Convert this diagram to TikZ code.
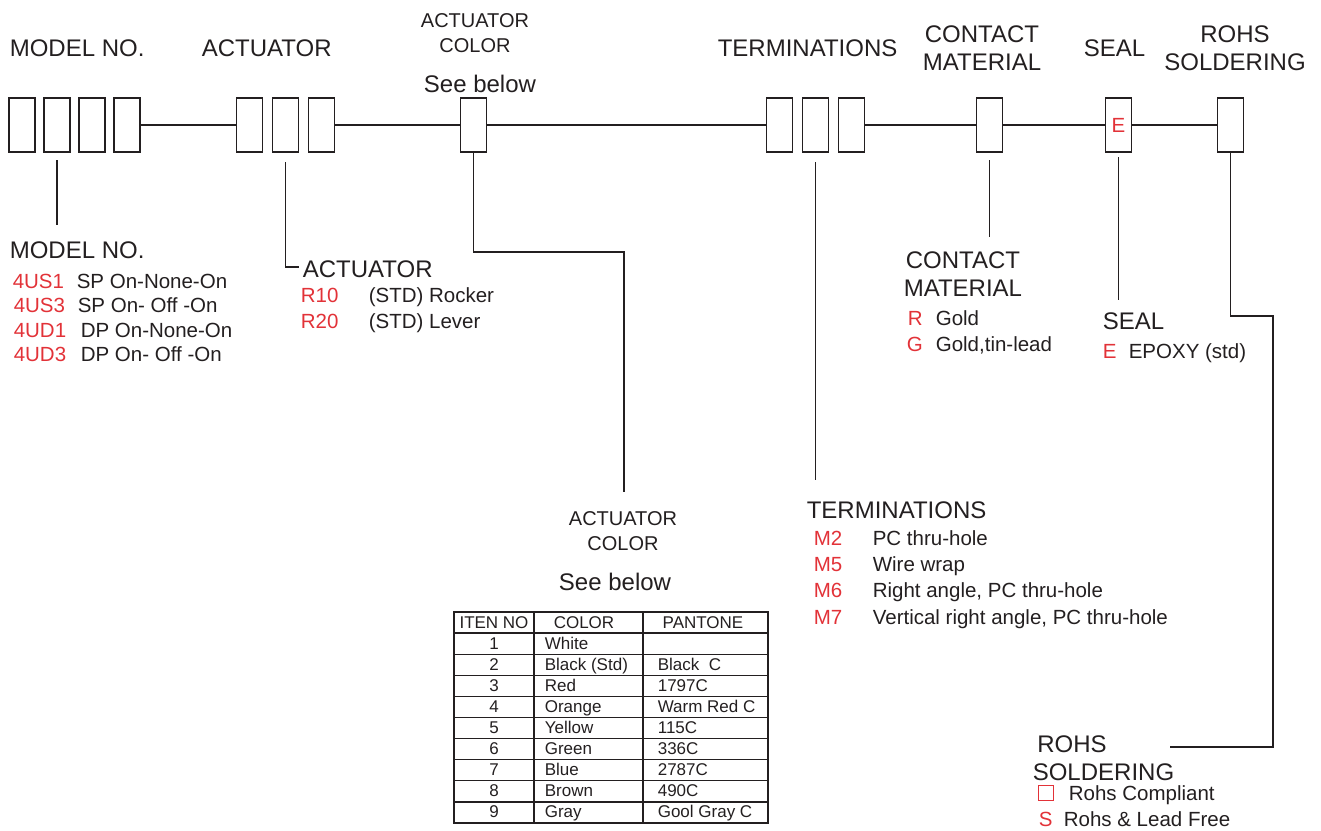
\documentclass[tikz,border=0pt]{standalone}
\usepackage{fontspec}
\setmainfont{Liberation Sans}
\definecolor{codered}{RGB}{226,50,56}
\definecolor{txt}{RGB}{35,31,32}
\begin{document}
\begin{tikzpicture}[x=1pt,y=-1pt, line width=1.6pt, draw=txt,
  box/.style={draw=txt, line width=1.5pt, minimum width=26pt, minimum height=54pt, inner sep=0pt},
  big/.style={inner sep=0pt, font=\fontsize{24}{28}\selectfont, text=txt},
  smallhd/.style={inner sep=0pt, font=\fontsize{20}{24}\selectfont, text=txt},
  mid/.style={inner sep=0pt, font=\fontsize{20.5}{25}\selectfont, text=txt},
  code/.style={mid, text=codered},
  tab/.style={inner sep=0pt, font=\fontsize{17}{20}\selectfont, text=txt}]
\useasboundingbox (0,0) rectangle (1321,830);

% ---------- top labels ----------
\node[big, anchor=base west] (hModel) at (9,56) {MODEL NO.};
\node[big, anchor=base west] (hAct) at (201,56) {ACTUATOR};
\node[smallhd, anchor=base] (hCol1) at (475,27) {ACTUATOR};
\node[smallhd, anchor=base] (hCol2) at (475,52) {COLOR};
\node[big, anchor=base] (hCol3) at (480,92) {See below};
\node[big, anchor=base west] (hTerm) at (717,56) {TERMINATIONS};
\node[big, anchor=base] (hCon1) at (982,42) {CONTACT};
\node[big, anchor=base] (hCon2) at (982,70) {MATERIAL};
\node[big, anchor=base west] (hSeal) at (1083,56) {SEAL};
\node[big, anchor=base] (hRohs1) at (1235,42) {ROHS};
\node[big, anchor=base] (hRohs2) at (1235,70) {SOLDERING};

% ---------- boxes ----------
\node[box] (m1) at (22,125) {};
\node[box] (m2) at (57,125) {};
\node[box] (m3) at (92,125) {};
\node[box] (m4) at (127,125) {};
\node[box] (a1) at (249.5,125) {};
\node[box] (a2) at (285.5,125) {};
\node[box] (a3) at (321.5,125) {};
\node[box] (col) at (473.5,125) {};
\node[box] (t1) at (779.5,125) {};
\node[box] (t2) at (815.5,125) {};
\node[box] (t3) at (851.5,125) {};
\node[box] (con) at (989.5,125) {};
\node[box, text=codered, font=\fontsize{20.5}{25}\selectfont] (seal) at (1118.5,125) {E};
\node[box] (rohs) at (1230.5,125) {};

\draw (m4.east) -- (a1.west);
\draw (a3.east) -- (col.west);
\draw (col.east) -- (t1.west);
\draw (t3.east) -- (con.west);
\draw (con.east) -- (seal.west);
\draw (seal.east) -- (rohs.west);

% ---------- leaders ----------
\coordinate (mS) at (57,160);
\coordinate (mE) at (57,225);
\draw (mS) -- (mE);

\coordinate (aS) at (285.5,162);
\coordinate (aE) at (299,267);
\draw (aS) |- (aE);

\coordinate (c1) at (624,252);
\coordinate (c2) at (624,492);
\draw (col.south) |- (c1) -- (c2);

\coordinate (tS) at (815.5,162);
\coordinate (tE) at (815.5,480);
\draw (tS) -- (tE);

\coordinate (kS) at (989.5,160);
\coordinate (kE) at (989.5,237);
\draw (kS) -- (kE);

\coordinate (sS) at (1118.5,157);
\coordinate (sE) at (1118.5,300);
\draw (sS) -- (sE);

\coordinate (r1) at (1273,316);
\coordinate (r3) at (1170,747);
\draw (rohs.south) |- (r1) |- (r3);

% ---------- model no ----------
\node[big, anchor=base west] (lModel) at (9,258) {MODEL NO.};
\node[code, anchor=base west] (mc1) at (12,288) {4US1};
\node[mid, anchor=base west] (md1) at (76,288) {SP On-None-On};
\node[code, anchor=base west] (mc2) at (13,312) {4US3};
\node[mid, anchor=base west] (md2) at (77,312) {SP On- Off -On};
\node[code, anchor=base west] (mc3) at (13,337) {4UD1};
\node[mid, anchor=base west] (md3) at (80,337) {DP On-None-On};
\node[code, anchor=base west] (mc4) at (13,361) {4UD3};
\node[mid, anchor=base west] (md4) at (80,361) {DP On- Off -On};

% ---------- actuator ----------
\node[big, anchor=base west] (lAct) at (302,277) {ACTUATOR};
\node[code, anchor=base west] (ac1) at (300,302) {R10};
\node[mid, anchor=base west] (ad1) at (368,302) {(STD) Rocker};
\node[code, anchor=base west] (ac2) at (300,328) {R20};
\node[mid, anchor=base west] (ad2) at (368,328) {(STD) Lever};

% ---------- actuator color ----------
\node[smallhd, anchor=base] (lCol1) at (623,525) {ACTUATOR};
\node[smallhd, anchor=base] (lCol2) at (623,550) {COLOR};
\node[big, anchor=base] (lCol3) at (615,590) {See below};

% table
\begin{scope}[line width=1.3pt]
\draw (454,612) rectangle (768,823);
\foreach \k in {1,...,9} { \draw (454,{612+21.1*\k}) -- (768,{612+21.1*\k}); }
\draw (534,612) -- (534,823);
\draw (643,612) -- (643,823);
\end{scope}
\node[tab, anchor=base] (th1) at (494,628) {ITEN NO};
\node[tab, anchor=base] (th2) at (584,628) {COLOR};
\node[tab, anchor=base] (th3) at (703,628) {PANTONE};
\foreach \n/\c/\p [count=\i] in {1/White/{},2/Black (Std)/Black\ \ C,3/Red/1797C,4/Orange/Warm Red C,5/Yellow/115C,6/Green/336C,7/Blue/2787C,8/Brown/490C,9/Gray/Gool Gray C} {
  \node[tab, anchor=base] (tn\i) at (494,{628+21.1*\i}) {\n};
  \node[tab, anchor=base west] (tc\i) at (544,{628+21.1*\i}) {\c};
  \node[tab, anchor=base west] (tp\i) at (657,{628+21.1*\i}) {\p};
}

% ---------- terminations ----------
\node[big, anchor=base west] (lTerm) at (806,518) {TERMINATIONS};
\node[code, anchor=base west] (tc1x) at (813,545) {M2};
\node[mid, anchor=base west] (td1) at (872,545) {PC thru-hole};
\node[code, anchor=base west] (tc2x) at (813,571) {M5};
\node[mid, anchor=base west] (td2) at (872,571) {Wire wrap};
\node[code, anchor=base west] (tc3x) at (813,597) {M6};
\node[mid, anchor=base west] (td3) at (872,597) {Right angle, PC thru-hole};
\node[code, anchor=base west] (tc4x) at (813,624) {M7};
\node[mid, anchor=base west] (td4) at (872,624) {Vertical right angle, PC thru-hole};

% ---------- contact material ----------
\node[big, anchor=base west] (lCon1) at (905,268) {CONTACT};
\node[big, anchor=base west] (lCon2) at (903,296) {MATERIAL};
\node[code, anchor=base west] (kc1) at (907,325) {R};
\node[mid, anchor=base west] (kd1) at (935,325) {Gold};
\node[code, anchor=base west] (kc2) at (906,351) {G};
\node[mid, anchor=base west] (kd2) at (935,351) {Gold,tin-lead};

% ---------- seal ----------
\node[big, anchor=base west] (lSeal) at (1102,329) {SEAL};
\node[code, anchor=base west] (sc1) at (1102,358) {E};
\node[mid, anchor=base west] (sd1) at (1128,358) {EPOXY (std)};

% ---------- rohs ----------
\node[big, anchor=base] (lRohs1) at (1072,752) {ROHS};
\node[big, anchor=base west] (lRohs2) at (1032,780) {SOLDERING};
\node[draw=codered, line width=1.5pt, minimum size=15pt, inner sep=0pt] (rsq) at (1046,793) {};
\node[mid, anchor=base west] (rd1) at (1068,800) {Rohs Compliant};
\node[code, anchor=base west] (rc2) at (1038,826) {S};
\node[mid, anchor=base west] (rd2) at (1063,826) {Rohs \& Lead Free};
\end{tikzpicture}
\end{document}
